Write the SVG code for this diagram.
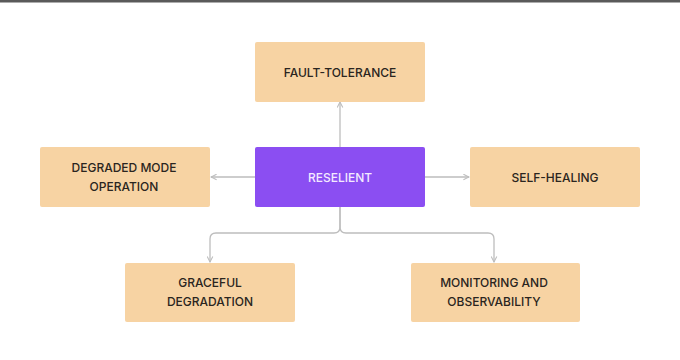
<svg xmlns="http://www.w3.org/2000/svg" width="680" height="360" viewBox="0 0 680 360">
<defs>
<style>
.box{fill:#f7d3a3;}
.core{fill:#8b4ef2;}
.lbl{font-family:Inter,"Liberation Sans",sans-serif;font-size:12px;fill:#2a2520;text-anchor:middle;font-weight:500;}
.clbl{font-family:Inter,"Liberation Sans",sans-serif;font-size:12px;fill:#f3eaff;text-anchor:middle;font-weight:500;}
.con{fill:none;stroke:#bdbdbd;stroke-width:1.3;marker-end:url(#arr);}
</style>
<marker id="arr" viewBox="0 0 10 10" refX="9" refY="5" markerWidth="7" markerHeight="7" orient="auto" markerUnits="userSpaceOnUse">
<path d="M1,1 L9,5 L1,9" fill="none" stroke="#bdbdbd" stroke-width="1.5"/>
</marker>
</defs>
<rect x="0" y="0" width="680" height="360" fill="#ffffff"/>
<rect x="0" y="0" width="680" height="2.5" fill="#5a5a5a"/>
<g id="connectors">
<path class="con" d="M340,147 V102"/>
<path class="con" d="M255,177 H211"/>
<path class="con" d="M425,177 H469"/>
<path class="con" d="M340,207 V227 Q340,233 334,233 H216 Q210,233 210,239 V262"/>
<path class="con" d="M340,207 V227 Q340,233 346,233 H488 Q494,233 494,239 V262"/>
</g>
<g id="fault-tolerance">
<rect class="box" x="255" y="42" width="170" height="60" rx="2"/>
<text class="lbl" x="340" y="76.5">FAULT-TOLERANCE</text>
</g>
<g id="reselient">
<rect class="core" x="255" y="147" width="170" height="60" rx="2"/>
<text class="clbl" x="340" y="181.5">RESELIENT</text>
</g>
<g id="degraded-mode">
<rect class="box" x="40" y="147" width="170" height="60" rx="2"/>
<text class="lbl" x="124" y="172">DEGRADED MODE</text>
<text class="lbl" x="124" y="191">OPERATION</text>
</g>
<g id="self-healing">
<rect class="box" x="470" y="147" width="170" height="60" rx="2"/>
<text class="lbl" x="555" y="181.5">SELF-HEALING</text>
</g>
<g id="graceful-degradation">
<rect class="box" x="125" y="263" width="170" height="59" rx="2"/>
<text class="lbl" x="210" y="287">GRACEFUL</text>
<text class="lbl" x="210" y="306">DEGRADATION</text>
</g>
<g id="monitoring">
<rect class="box" x="411" y="263" width="169" height="59" rx="2"/>
<text class="lbl" x="494" y="287">MONITORING AND</text>
<text class="lbl" x="494" y="306">OBSERVABILITY</text>
</g>
</svg>
